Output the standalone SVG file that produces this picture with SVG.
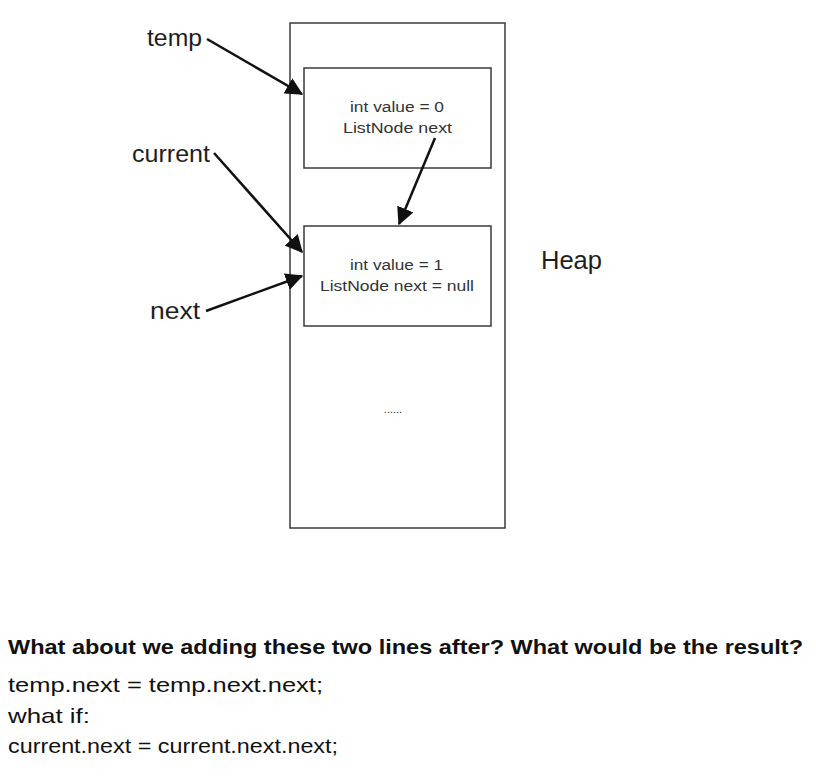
<svg xmlns="http://www.w3.org/2000/svg" width="816" height="776" viewBox="0 0 816 776">
<style>
.box{fill:#fff;stroke:#3a3a3a;stroke-width:1.5}
.lbl{font-family:"Liberation Sans",Arial,sans-serif;fill:#1e1e1e}
.small{font-size:15.5px;fill:#333}
.var{font-size:24px}
.conn{stroke:#111;stroke-width:2.5;fill:none}
.q{font-size:21px;fill:#111}
</style>
<defs>
<marker id="ah" markerWidth="7" markerHeight="7" refX="6.5" refY="3.5" orient="auto" markerUnits="strokeWidth">
<path d="M0,0 L7,3.5 L0,7 Z" fill="#111"/>
</marker>
</defs>
<rect width="816" height="776" fill="#fff"/>
<g id="heap">
<rect class="box" x="290" y="23" width="215" height="505"/>
<text class="lbl" x="541" y="269" font-size="26" textLength="61" lengthAdjust="spacingAndGlyphs">Heap</text>
<text class="lbl" x="393" y="413" font-size="11" text-anchor="middle" fill="#555">......</text>
</g>
<g id="node1">
<rect class="box" x="304" y="68" width="187" height="100"/>
<text class="lbl small" x="350" y="112" textLength="94" lengthAdjust="spacingAndGlyphs">int value = 0</text>
<text class="lbl small" x="343" y="133" textLength="109" lengthAdjust="spacingAndGlyphs">ListNode next</text>
</g>
<g id="node2">
<rect class="box" x="304" y="226" width="187" height="100"/>
<text class="lbl small" x="350" y="270" textLength="93" lengthAdjust="spacingAndGlyphs">int value = 1</text>
<text class="lbl small" x="320" y="291" textLength="154" lengthAdjust="spacingAndGlyphs">ListNode next = null</text>
</g>
<g id="temp">
<text class="lbl var" x="147" y="46" textLength="55" lengthAdjust="spacingAndGlyphs">temp</text>
</g>
<g id="current">
<text class="lbl var" x="132" y="162" textLength="78" lengthAdjust="spacingAndGlyphs">current</text>
</g>
<g id="next">
<text class="lbl var" x="150" y="319" textLength="50" lengthAdjust="spacingAndGlyphs">next</text>
</g>
<g id="connectors">
<line class="conn" x1="207" y1="39" x2="302" y2="94" marker-end="url(#ah)"/>
<line class="conn" x1="214" y1="153" x2="302" y2="252" marker-end="url(#ah)"/>
<line class="conn" x1="206" y1="311" x2="302" y2="276" marker-end="url(#ah)"/>
<line class="conn" x1="435" y1="138" x2="399" y2="224" marker-end="url(#ah)"/>
</g>
<g id="question">
<text class="lbl q" x="8" y="654" font-weight="bold" textLength="795" lengthAdjust="spacingAndGlyphs">What about we adding these two lines after? What would be the result?</text>
<text class="lbl q" x="8" y="692" textLength="315" lengthAdjust="spacingAndGlyphs">temp.next = temp.next.next;</text>
<text class="lbl q" x="8" y="723" textLength="82" lengthAdjust="spacingAndGlyphs">what if:</text>
<text class="lbl q" x="8" y="753" textLength="330" lengthAdjust="spacingAndGlyphs">current.next = current.next.next;</text>
</g>
</svg>
